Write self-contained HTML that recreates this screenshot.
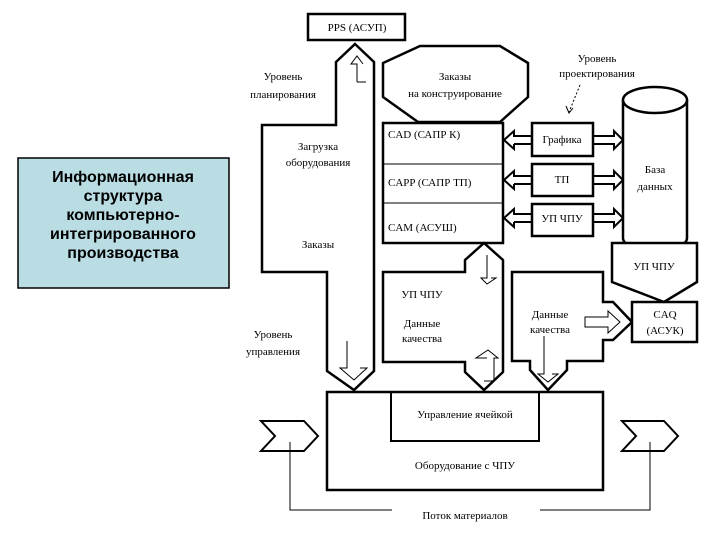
<!DOCTYPE html>
<html><head><meta charset="utf-8"><style>
html,body{margin:0;padding:0;background:#fff;}
svg{display:block;}
text{font-family:"Liberation Serif","DejaVu Serif",serif;font-size:11px;fill:#000;text-anchor:middle;}
.b{font-family:"Liberation Sans","DejaVu Sans",sans-serif;font-weight:bold;font-size:16px;}
</style></head><body>
<svg width="720" height="540" viewBox="0 0 720 540" xmlns="http://www.w3.org/2000/svg">
<g fill="none" stroke="#000" stroke-width="2.5" stroke-linejoin="miter">
<rect x="18" y="158" width="211" height="130" fill="#b9dde3" stroke-width="1.5"/>
<rect x="308" y="14" width="97" height="26" fill="#fff"/>
<polygon points="355,44 374,62 374,371 354,390 327,371 327,272 262,272 262,125 336,125 336,62" fill="#fff"/>
<polygon points="420,46 500,46 528,63 528,97 500,122 418,122 383,97 383,63" fill="#fff"/>
<rect x="383" y="123" width="120" height="120" fill="#fff"/>
<line x1="383" y1="164" x2="503" y2="164" stroke-width="1"/>
<line x1="383" y1="203" x2="503" y2="203" stroke-width="1"/>
<rect x="532" y="123" width="61" height="33"/>
<rect x="532" y="164" width="61" height="32"/>
<rect x="532" y="204" width="61" height="32"/>
<path d="M623,100 L623,238 A32,13 0 0 0 687,238 L687,100" fill="#fff"/>
<ellipse cx="655" cy="100" rx="32" ry="13" fill="#fff"/>
<polygon points="484,243 503,260 503,372 484,390 465,372 465,362 383,362 383,272 465,272 465,260" fill="#fff"/>
<polygon points="512,272 603,272 603,302 613,302 632,322 613,340 603,340 603,361 567,361 567,370 548,390 530,370 530,361 512,361" fill="#fff"/>
<rect x="632" y="302" width="65" height="40" fill="#fff"/>
<polygon points="612,243 697,243 697,282 664,302 612,282" fill="#fff"/>
<rect x="327" y="392" width="276" height="98" fill="#fff"/>
<rect x="391" y="392" width="148" height="49" stroke-width="2"/>
<polygon points="261,421 304,421 318,436 304,451 261,451 275,436" stroke-width="2"/>
<polygon points="622,421 664,421 678,436 664,451 622,451 636,436" stroke-width="2"/>
</g>
<g fill="none" stroke="#000" stroke-width="1">
<polyline points="290,442 290,510 392,510"/>
<polyline points="540,510 650,510 650,442"/>
<path d="M357,82 L357,64 L351,64 L357,56 L363,64"/>
<path d="M357,82 L366,82"/>
<path d="M347,341 L347,368 L340,368 L354,380 L367,368 L360,368"/>
<path d="M487,255 L487,278 L481,278 L487,284 L496,278 L491,278"/>
<path d="M484,381 L494,381 L494,358 L498,358 L488,350 L476,358 L487,358"/>
<path d="M544,336 L544,374 L538,374 L548,382 L558,374 L552,374"/>
<path d="M585,317 L608,317 L608,311 L620,322 L608,333 L608,327 L585,327 Z"/>
<path d="M580,85 L569,112" stroke-dasharray="2,2"/>
<path d="M566,106 L569,113 L573,108"/>
</g>
<g fill="none" stroke="#000" stroke-width="2">
<path d="M504,140 L514,131 L514,136 L532,136 M514,144 L532,144 M504,140 L514,149 L514,144"/>
<path d="M593,136 L614,136 L614,131 L623,140 L614,149 L614,144 L593,144"/>
<path d="M504,180 L514,171 L514,176 L532,176 M514,184 L532,184 M504,180 L514,189 L514,184"/>
<path d="M593,176 L614,176 L614,171 L623,180 L614,189 L614,184 L593,184"/>
<path d="M504,218 L514,209 L514,214 L532,214 M514,222 L532,222 M504,218 L514,227 L514,222"/>
<path d="M593,214 L614,214 L614,209 L623,218 L614,227 L614,222 L593,222"/>
</g>
<text class="b" x="123" y="182">Информационная</text>
<text class="b" x="123" y="201">структура</text>
<text class="b" x="123" y="220">компьютерно-</text>
<text class="b" x="123" y="239">интегрированного</text>
<text class="b" x="123" y="258">производства</text>
<text x="357" y="31">PPS (АСУП)</text>
<text x="283" y="80">Уровень</text>
<text x="283" y="98">планирования</text>
<text x="455" y="80">Заказы</text>
<text x="455" y="97">на конструирование</text>
<text x="597" y="62">Уровень</text>
<text x="597" y="77">проектирования</text>
<text x="318" y="150">Загрузка</text>
<text x="318" y="166">оборудования</text>
<text x="318" y="248">Заказы</text>
<text x="388" y="138" style="text-anchor:start">CAD (САПР К)</text>
<text x="388" y="186" style="text-anchor:start">CAPP (САПР ТП)</text>
<text x="388" y="231" style="text-anchor:start">CAM (АСУШ)</text>
<text x="562" y="143">Графика</text>
<text x="562" y="183">ТП</text>
<text x="562" y="222">УП ЧПУ</text>
<text x="655" y="173">База</text>
<text x="655" y="190">данных</text>
<text x="654" y="270">УП ЧПУ</text>
<text x="422" y="298">УП ЧПУ</text>
<text x="422" y="327">Данные</text>
<text x="422" y="342">качества</text>
<text x="550" y="318">Данные</text>
<text x="550" y="333">качества</text>
<text x="665" y="318">CAQ</text>
<text x="665" y="334">(АСУК)</text>
<text x="273" y="338">Уровень</text>
<text x="273" y="355">управления</text>
<text x="465" y="418">Управление ячейкой</text>
<text x="465" y="469">Оборудование с ЧПУ</text>
<text x="465" y="519">Поток материалов</text>
</svg>
</body></html>
